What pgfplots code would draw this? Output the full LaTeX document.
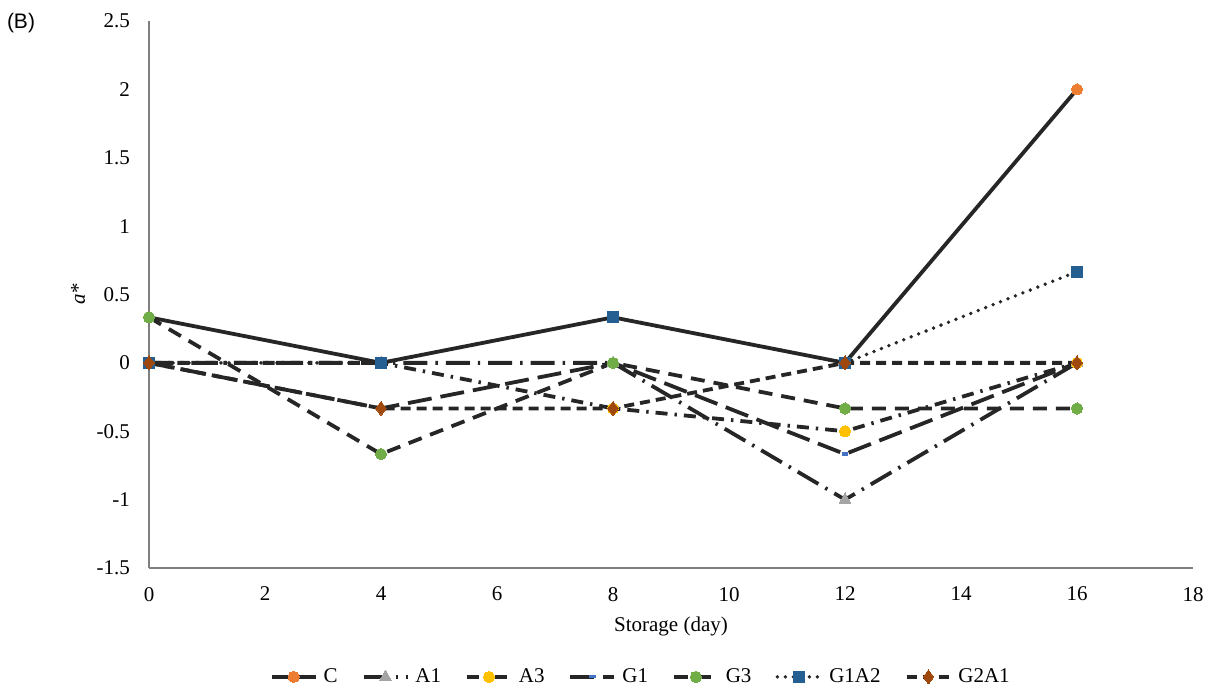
\documentclass[border=0pt]{standalone}
\usepackage{fontspec}
\setmainfont{Liberation Serif}
\newfontfamily\arialf{Liberation Sans}
\usepackage{pgfplots}
\pgfplotsset{compat=1.18}
\definecolor{lc}{HTML}{262626}
\definecolor{cC}{HTML}{ED7D31}
\definecolor{cA1}{HTML}{A5A5A5}
\definecolor{cA3}{HTML}{FFC000}
\definecolor{cG1}{HTML}{4472C4}
\definecolor{cG3}{HTML}{70AD47}
\definecolor{cG1A2}{HTML}{255E91}
\definecolor{cG2A1}{HTML}{9E480E}
\definecolor{axc}{HTML}{7F7F7F}
\begin{document}
\begin{tikzpicture}
\path[use as bounding box] (0,0) rectangle (607.5pt,345.5pt);
\begin{axis}[
  at={(74.5pt,61.5pt)}, anchor=south west,
  scale only axis, width=522pt, height=273.5pt,
  xmin=0, xmax=18, ymin=-1.5, ymax=2.5,
  xtick={0,2,...,18}, ytick={-1.5,-1,...,2.5},
  axis x line=bottom, axis y line=left,
  axis line style={-, draw=axc, line width=0.6pt},
  major tick length=0pt,
  font=\fontsize{10.5}{12}\selectfont,
  /pgf/number format/assume math mode=true,
  yticklabel style={xshift=-6pt},
  xticklabel style={yshift=-6pt},
  xlabel={Storage (day)},
  xlabel style={at={(axis description cs:0.5,-0.106)},anchor=center},
  ylabel={\textit{a*}},
  ylabel style={at={(axis description cs:-0.068,0.5)},anchor=center,rotate=0},
  clip=false,
  every axis plot/.append style={line width=1.9pt, draw=lc},
  legend columns=7,
  legend style={draw=none, at={(axis description cs:0.472,-0.199)}, anchor=center,
    font=\fontsize{10.5}{12}\selectfont,
    /tikz/every odd column/.append style={column sep=1pt},
    /tikz/every even column/.append style={column sep=10pt}},
  legend image code/.code={\draw[mark repeat=2,mark phase=2] plot coordinates {(0pt,0pt)(11pt,0pt)(22pt,0pt)};},
]
\addplot[solid, mark=*, mark options={solid, draw=cC, fill=cC, line width=0pt}, mark size=2.8pt]
  coordinates {(0,0.333)(4,0)(8,0.333)(12,0)(16,2)};
\addlegendentry{C}
\addplot[dash pattern=on 12pt off 4pt on 1.2pt off 4pt, mark=triangle*, mark options={solid, draw=cA1, fill=cA1, line width=0pt}, mark size=3.4pt]
  coordinates {(0,0)(4,0)(8,0)(12,-1)(16,0)};
\addlegendentry{A1}
\addplot[dash pattern=on 6pt off 3.5pt on 1.2pt off 3.5pt, mark=*, mark options={solid, draw=cA3, fill=cA3, line width=0pt}, mark size=2.8pt]
  coordinates {(0,0)(4,0)(8,-0.333)(12,-0.5)(16,0)};
\addlegendentry{A3}
\addplot[dash pattern=on 12pt off 4.5pt, mark=-, mark options={solid, draw=cG1, line width=1.6pt}, mark size=1.6pt]
  coordinates {(0,0)(4,-0.333)(8,0)(12,-0.667)(16,0)};
\addlegendentry{G1}
\addplot[dash pattern=on 7pt off 4.5pt, mark=*, mark options={solid, draw=cG3, fill=cG3, line width=0pt}, mark size=2.8pt]
  coordinates {(0,0.333)(4,-0.667)(8,0)(12,-0.333)(16,-0.333)};
\addlegendentry{G3}
\addplot[dash pattern=on 0pt off 4pt, line cap=round, mark=square*, mark options={solid, draw=cG1A2, fill=cG1A2, line width=0pt}, mark size=2.8pt]
  coordinates {(0,0)(4,0)(8,0.333)(12,0)(16,0.667)};
\addlegendentry{G1A2}
\addplot[dash pattern=on 5pt off 3pt, mark=diamond*, mark options={solid, draw=cG2A1, fill=cG2A1, line width=0pt}, mark size=3.5pt]
  coordinates {(0,0)(4,-0.333)(8,-0.333)(12,0)(16,0)};
\addlegendentry{G2A1}
\end{axis}
\node[font=\arialf\fontsize{10.5}{12}\selectfont] at (10.5pt,334pt) {(B)};
\end{tikzpicture}
\end{document}
